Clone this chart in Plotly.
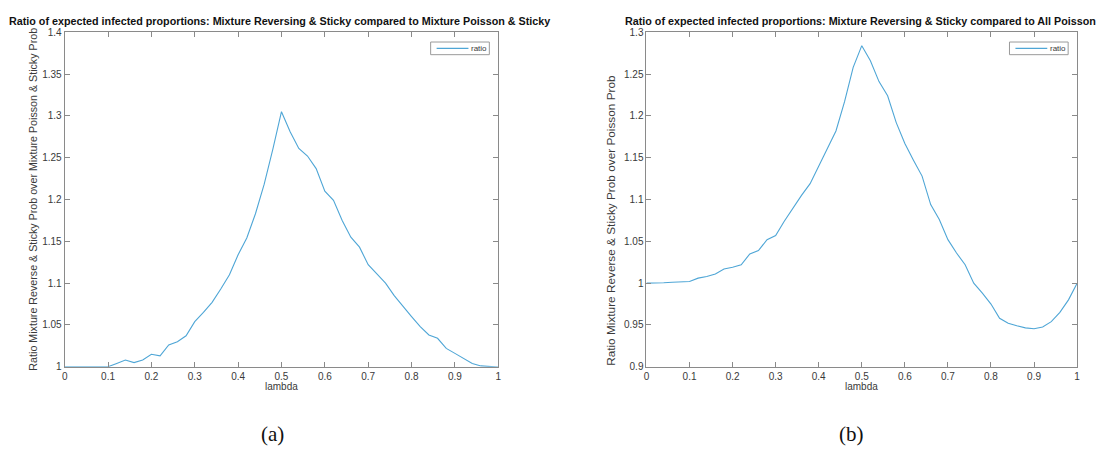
import plotly.graph_objects as go

lam = [round(i * 0.02, 2) for i in range(51)]

ratio_a = [1.000, 1.000, 0.9995, 0.9995, 0.9993, 1.000, 1.004, 1.008, 1.005, 1.008,
           1.015, 1.013, 1.026, 1.030, 1.037, 1.054, 1.065, 1.077, 1.093, 1.110,
           1.134, 1.154, 1.183, 1.218, 1.260, 1.305, 1.281, 1.261, 1.252, 1.237,
           1.210, 1.199, 1.175, 1.155, 1.143, 1.122, 1.111, 1.100, 1.085, 1.072,
           1.060, 1.048, 1.038, 1.034, 1.022, 1.016, 1.010, 1.004, 1.001, 1.000,
           0.9995]

ratio_b = [1.000, 1.000, 1.0005, 1.001, 1.0015, 1.002, 1.006, 1.008, 1.011, 1.017,
           1.019, 1.022, 1.035, 1.039, 1.052, 1.057, 1.074, 1.090, 1.105, 1.119,
           1.140, 1.161, 1.182, 1.217, 1.258, 1.284, 1.266, 1.241, 1.224, 1.192,
           1.167, 1.147, 1.128, 1.094, 1.076, 1.052, 1.036, 1.022, 1.000, 0.988,
           0.975, 0.958, 0.952, 0.949, 0.9465, 0.9455, 0.9475, 0.954, 0.965, 0.980,
           1.000]

title_a = "Ratio of expected infected proportions: Mixture Reversing & Sticky compared to Mixture Poisson & Sticky"
title_b = "Ratio of expected infected proportions: Mixture Reversing & Sticky compared to All Poisson"
ylab_a = "Ratio Mixture Reverse & Sticky Prob over Mixture Poisson & Sticky Prob"
ylab_b = "Ratio Mixture Reverse & Sticky Prob over Poisson Prob"
xlab = "lambda"
series_name = "ratio"
panel_tags = ["(a)", "(b)"]

W, H = 1099, 456
LINE = "#4fa6d6"
AX = "#8a8a8a"
TXT = "#3a3a3a"
FONT = "Liberation Sans, Arial, sans-serif"
SERIF = "Liberation Serif, DejaVu Serif, serif"


def px_x(p):
    return p / W


def px_y(p):
    return 1 - p / H


fig = go.Figure()
fig.add_trace(go.Scatter(x=lam, y=ratio_a, mode="lines", name=series_name,
                         line=dict(color=LINE, width=1.1), xaxis="x", yaxis="y",
                         showlegend=False))
fig.add_trace(go.Scatter(x=lam, y=ratio_b, mode="lines", name=series_name,
                         line=dict(color=LINE, width=1.1), xaxis="x2", yaxis="y2",
                         showlegend=False))

axis_common = dict(showline=True, mirror="ticks", linecolor=AX, linewidth=1,
                   ticks="inside", ticklen=5, tickcolor=AX, tickwidth=1,
                   showgrid=False, zeroline=False,
                   tickfont=dict(family=FONT, size=10, color=TXT))

top, bottom = 27, 370.5
fig.update_layout(
    width=W, height=H,
    margin=dict(l=0, r=0, t=0, b=0),
    paper_bgcolor="white", plot_bgcolor="white",
    xaxis=dict(domain=[px_x(62), px_x(498)], range=[0, 1], dtick=0.1, anchor="y",
               **axis_common),
    yaxis=dict(domain=[px_y(bottom), px_y(top)], range=[1, 1.4], dtick=0.05,
               anchor="x", **axis_common),
    xaxis2=dict(domain=[px_x(647), px_x(1080)], range=[0, 1], dtick=0.1, anchor="y2",
                **axis_common),
    yaxis2=dict(domain=[px_y(bottom), px_y(top)], range=[0.9, 1.3], dtick=0.05,
                anchor="x2", **axis_common),
)

ann = []
shapes = []

panels = [
    dict(title=title_a, tcx=278, ylab=ylab_a, ylx=30, yly=198, ylsize=10.7, cx=280,
         tag_x=271, leg=(430, 489)),
    dict(title=title_b, tcx=862, ylab=ylab_b, ylx=612, yly=220, ylsize=11.8, cx=863,
         tag_x=853, leg=(1012, 1071)),
]
for i, p in enumerate(panels):
    ann.append(dict(text="<b>" + p["title"] + "</b>", x=px_x(p["tcx"]), y=px_y(15),
                    xref="paper", yref="paper", showarrow=False, xanchor="center",
                    yanchor="middle", font=dict(family=FONT, size=10.75, color="#111111")))
    ann.append(dict(text=p["ylab"], x=px_x(p["ylx"]), y=px_y(p["yly"]), xref="paper",
                    yref="paper", showarrow=False, textangle=-90, xanchor="center",
                    yanchor="middle", font=dict(family=FONT, size=p["ylsize"], color=TXT)))
    ann.append(dict(text=xlab, x=px_x(p["cx"]), y=px_y(391), xref="paper", yref="paper",
                    showarrow=False, xanchor="center", yanchor="middle",
                    font=dict(family=FONT, size=10, color=TXT)))
    ann.append(dict(text=panel_tags[i], x=px_x(p["tag_x"]), y=px_y(440), xref="paper",
                    yref="paper", showarrow=False, xanchor="center", yanchor="middle",
                    font=dict(family=SERIF, size=21, color="#111111")))
    # compact MATLAB-style legend box
    lx0, lx1 = p["leg"]
    shapes.append(dict(type="rect", xref="paper", yref="paper",
                       x0=px_x(lx0), x1=px_x(lx1), y0=px_y(50), y1=px_y(37),
                       line=dict(color="#9a9a9a", width=1), fillcolor="white",
                       layer="above"))
    shapes.append(dict(type="line", xref="paper", yref="paper",
                       x0=px_x(lx0 + 6), x1=px_x(lx0 + 38), y0=px_y(43.5), y1=px_y(43.5),
                       line=dict(color=LINE, width=1.1), layer="above"))
    ann.append(dict(text=series_name, x=px_x(lx0 + 39), y=px_y(43.5), xref="paper",
                    yref="paper", showarrow=False, xanchor="left", yanchor="middle",
                    font=dict(family=FONT, size=8, color=TXT)))

fig.update_layout(annotations=ann, shapes=shapes)

fig.write_html("out.html",
               config={"displayModeBar": False},
               post_script="document.body.style.margin='0px';"
                           "document.body.style.overflow='hidden';")
